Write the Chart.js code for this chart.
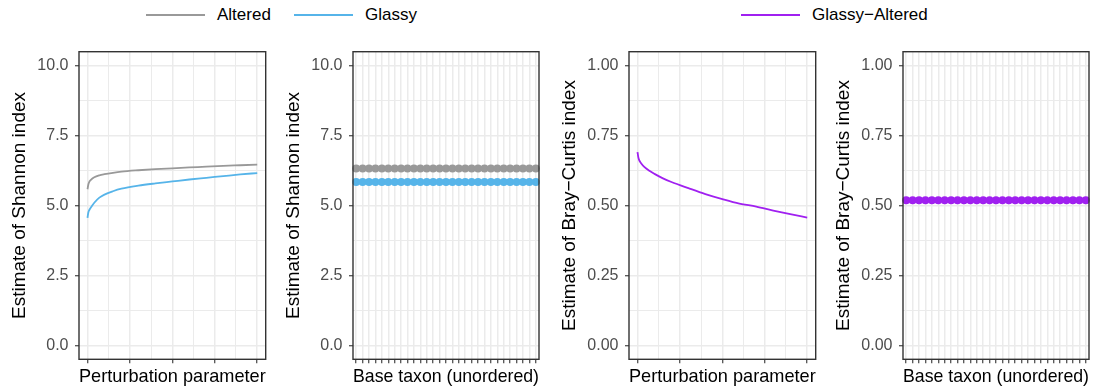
<!DOCTYPE html>
<html>
<head>
<meta charset="utf-8">
<script src="https://cdn.jsdelivr.net/npm/chart.js@4.4.1/dist/chart.umd.min.js"></script>
<style>
  body { margin: 0; background: #fff; width: 1102px; height: 389px; position: relative; overflow: hidden; font-family: "Liberation Sans", Arial, sans-serif; }
  canvas { position: absolute; top: 40px; }
  .key { position: absolute; top: 0; height: 29px; display: flex; align-items: center; font-size: 17px; color: #000; white-space: nowrap; }
  .key .swatch { display: inline-block; width: 59px; height: 2px; margin-right: 12px; }
</style>
</head>
<body>
<div class="key" style="left:146px"><span class="swatch" style="background:#999999"></span>Altered</div>
<div class="key" style="left:294px"><span class="swatch" style="background:#56B4E9"></span>Glassy</div>
<div class="key" style="left:741px"><span class="swatch" style="background:#A020F0"></span>Glassy−Altered</div>

<canvas id="p1" width="272" height="349" style="left:0px"></canvas>
<canvas id="p2" width="271" height="349" style="left:274.3px"></canvas>
<canvas id="p3" width="272" height="349" style="left:550px"></canvas>
<canvas id="p4" width="271" height="349" style="left:824.3px"></canvas>

<script>
// values
const perturbation = [0, 0.005, 0.01, 0.02, 0.04, 0.07, 0.1, 0.15, 0.2, 0.3, 0.4, 0.5, 0.6, 0.7, 0.8, 0.9, 1.0];
const shannonAltered = [5.58, 5.75, 5.84, 5.92, 6.01, 6.08, 6.12, 6.17, 6.21, 6.26, 6.30, 6.33, 6.36, 6.39, 6.42, 6.44, 6.46];
const shannonGlassy = [4.56, 4.75, 4.83, 4.93, 5.10, 5.28, 5.39, 5.51, 5.60, 5.71, 5.79, 5.86, 5.93, 5.99, 6.05, 6.11, 6.16];
const brayGlassyAltered = [0.691, 0.672, 0.662, 0.652, 0.638, 0.624, 0.613, 0.597, 0.584, 0.562, 0.541, 0.523, 0.507, 0.496, 0.482, 0.469, 0.457];

const taxa = ['t01', 't02', 't03', 't04', 't05', 't06', 't07', 't08', 't09', 't10',
              't11', 't12', 't13', 't14', 't15', 't16', 't17', 't18', 't19', 't20',
              't21', 't22', 't23', 't24', 't25', 't26', 't27', 't28', 't29'];
const taxonAltered = [6.32, 6.32, 6.32, 6.32, 6.32, 6.32, 6.32, 6.32, 6.32, 6.32,
                      6.32, 6.32, 6.32, 6.32, 6.32, 6.32, 6.32, 6.32, 6.32, 6.32,
                      6.32, 6.32, 6.32, 6.32, 6.32, 6.32, 6.32, 6.32, 6.32];
const taxonGlassy = [5.84, 5.84, 5.84, 5.84, 5.84, 5.84, 5.84, 5.84, 5.84, 5.84,
                     5.84, 5.84, 5.84, 5.84, 5.84, 5.84, 5.84, 5.84, 5.84, 5.84,
                     5.84, 5.84, 5.84, 5.84, 5.84, 5.84, 5.84, 5.84, 5.84];
const taxonBray = [0.519, 0.519, 0.519, 0.519, 0.519, 0.519, 0.519, 0.519, 0.519, 0.519,
                   0.519, 0.519, 0.519, 0.519, 0.519, 0.519, 0.519, 0.519, 0.519, 0.519,
                   0.519, 0.519, 0.519, 0.519, 0.519, 0.519, 0.519, 0.519, 0.519];

// tick positions and labels
const perturbMajor = [0, 0.25, 0.5, 0.75, 1];
const perturbMinor = [0.125, 0.375, 0.625, 0.875];
const shannonMajor = [0, 2.5, 5, 7.5, 10];
const shannonMinor = [1.25, 3.75, 6.25, 8.75];
const shannonLabels = ['0.0', '2.5', '5.0', '7.5', '10.0'];
const brayMajor = [0, 0.25, 0.5, 0.75, 1];
const brayMinor = [0.125, 0.375, 0.625, 0.875];
const brayLabels = ['0.00', '0.25', '0.50', '0.75', '1.00'];

const GREY = '#999999', BLUE = '#56B4E9', PURPLE = '#A020F0';
const GRID = '#EBEBEB', DARK = '#333333';
const FONT = '"Liberation Sans", Arial, sans-serif';
const TITLE_SIZE = 19;

// ggplot style panel border
const framePlugin = {
    id: 'frame',
    afterDraw(chart) {
        const a = chart.chartArea, ctx = chart.ctx;
        ctx.save();
        ctx.strokeStyle = DARK;
        ctx.lineWidth = 1.4;
        ctx.strokeRect(a.left, a.top, a.right - a.left, a.bottom - a.top);
        ctx.restore();
    }
};

function tickList(major, minor) {
    return major.map(v => ({ value: v, major: true }))
        .concat(minor.map(v => ({ value: v, major: false })))
        .sort((a, b) => a.value - b.value);
}

function yAxis(title, major, minor, labels, min, max) {
    return {
        type: 'linear', min: min, max: max,
        afterBuildTicks: s => { s.ticks = tickList(major, minor); },
        afterFit: s => { s.width = 79; s.paddingTop = 0; s.paddingBottom = 0; },
        border: { display: false },
        grid: {
            color: GRID,
            lineWidth: c => (c.tick && c.tick.major ? 1.5 : 1),
            tickLength: 4,
            tickColor: c => (c.tick && c.tick.major ? DARK : 'rgba(0,0,0,0)'),
            tickWidth: 1.1
        },
        ticks: {
            autoSkip: false, padding: 6.5, color: '#4D4D4D',
            font: { family: FONT, size: 16 },
            callback: v => { const i = major.indexOf(v); return i >= 0 ? labels[i] : ''; }
        },
        title: { display: true, text: title, color: '#000', font: { family: FONT, size: TITLE_SIZE }, padding: { top: 8.6, bottom: 0 } }
    };
}

function xTitle(text) {
    return { display: true, text: text, color: '#000', font: { family: FONT, size: TITLE_SIZE }, padding: { top: 0, bottom: 0.6 } };
}

function linearX() {
    return {
        type: 'linear', min: -0.05, max: 1.05,
        afterBuildTicks: s => { s.ticks = tickList(perturbMajor, perturbMinor); },
        afterFit: s => { s.height = 29.7; s.paddingLeft = 0; s.paddingRight = 0; },
        border: { display: false },
        grid: {
            color: GRID,
            lineWidth: c => (c.tick && c.tick.major ? 1.5 : 1),
            tickLength: 4,
            tickColor: c => (c.tick && c.tick.major ? DARK : 'rgba(0,0,0,0)'),
            tickWidth: 1.1
        },
        ticks: { display: false },
        title: xTitle('Perturbation parameter')
    };
}

function categoryX() {
    return {
        type: 'category', offset: true,
        afterFit: s => { s.height = 29.7; s.paddingLeft = 0; s.paddingRight = 0; },
        border: { display: false },
        grid: { offset: false, color: GRID, lineWidth: 1.5, tickLength: 4, tickColor: DARK, tickWidth: 1.1 },
        ticks: { display: false, autoSkip: false },
        title: xTitle('Base taxon (unordered)')
    };
}

function lineSet(label, ys, color) {
    return {
        label: label,
        data: perturbation.map((x, i) => ({ x: x, y: ys[i] })),
        borderColor: color, borderWidth: 1.8, pointRadius: 0,
        cubicInterpolationMode: 'monotone', fill: false
    };
}

function pointSet(label, ys, color) {
    return {
        label: label, data: ys,
        showLine: false, pointRadius: 4, pointBorderWidth: 0,
        pointBackgroundColor: color, borderColor: color
    };
}

function baseOptions(x, y, padRight) {
    return {
        responsive: false, animation: false, events: [],
        layout: { padding: { top: 11.7, left: 0, right: padRight, bottom: 0 } },
        plugins: { legend: { display: false }, tooltip: { enabled: false } },
        scales: { x: x, y: y }
    };
}

new Chart(document.getElementById('p1'), {
    type: 'line',
    data: { datasets: [lineSet('Altered', shannonAltered, GREY), lineSet('Glassy', shannonGlassy, BLUE)] },
    options: baseOptions(linearX(), yAxis('Estimate of Shannon index', shannonMajor, shannonMinor, shannonLabels, -0.5, 10.5), 6.3),
    plugins: [framePlugin]
});

new Chart(document.getElementById('p2'), {
    type: 'line',
    data: { labels: taxa, datasets: [pointSet('Altered', taxonAltered, GREY), pointSet('Glassy', taxonGlassy, BLUE)] },
    options: baseOptions(categoryX(), yAxis('Estimate of Shannon index', shannonMajor, shannonMinor, shannonLabels, -0.5, 10.5), 6),
    plugins: [framePlugin]
});

new Chart(document.getElementById('p3'), {
    type: 'line',
    data: { datasets: [lineSet('Glassy−Altered', brayGlassyAltered, PURPLE)] },
    options: baseOptions(linearX(), yAxis('Estimate of Bray−Curtis index', brayMajor, brayMinor, brayLabels, -0.05, 1.05), 6.3),
    plugins: [framePlugin]
});

new Chart(document.getElementById('p4'), {
    type: 'line',
    data: { labels: taxa, datasets: [pointSet('Glassy−Altered', taxonBray, PURPLE)] },
    options: baseOptions(categoryX(), yAxis('Estimate of Bray−Curtis index', brayMajor, brayMinor, brayLabels, -0.05, 1.05), 6),
    plugins: [framePlugin]
});
</script>
</body>
</html>
